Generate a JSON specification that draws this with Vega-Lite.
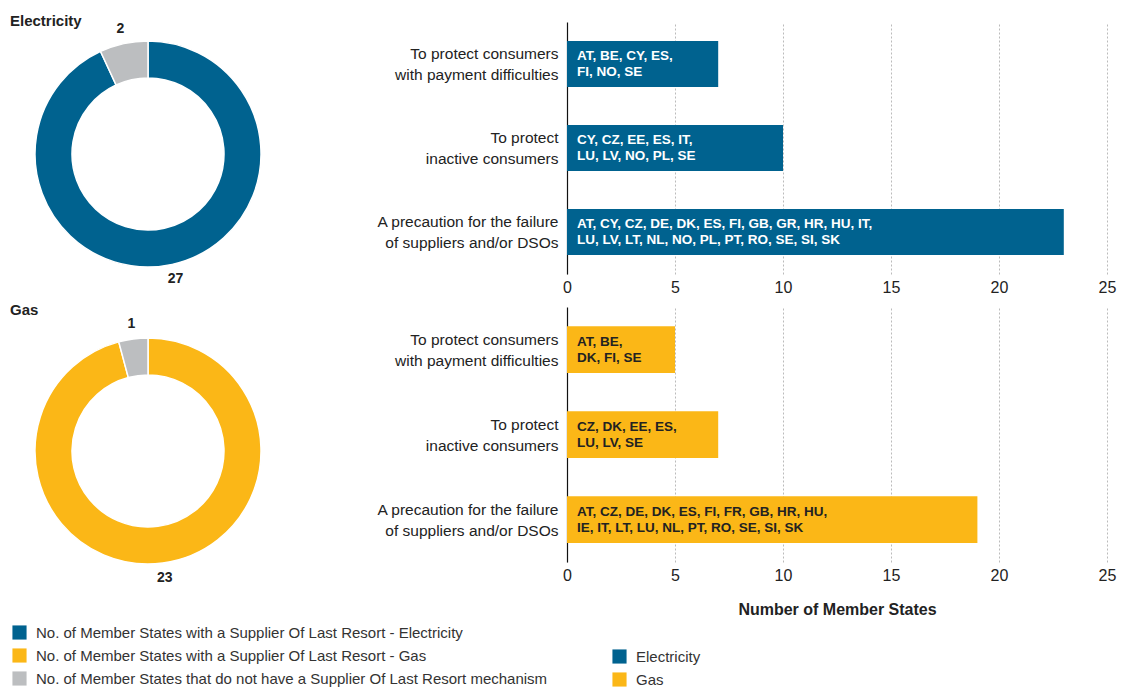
{
  "$schema": "https://vega.github.io/schema/vega-lite/v6.json",
  "padding": {"left": 10, "top": 13, "right": 5, "bottom": 0},
  "background": "white",
  "config": {
    "view": {"stroke": null},
    "font": "Liberation Sans, Arial, sans-serif",
    "axis": {"labelFont": "Liberation Sans, Arial, sans-serif", "titleFont": "Liberation Sans, Arial, sans-serif"},
    "legend": {"labelFont": "Liberation Sans, Arial, sans-serif"},
    "title": {"font": "Liberation Sans, Arial, sans-serif"}
  },
  "bounds": "flush",
  "align": "each",
  "columns": 2,
  "spacing": {"row": 21, "column": 281},
  "datasets": {
    "donut": [
      {"energy": "Electricity", "category": "No. of Member States with a Supplier Of Last Resort - Electricity", "value": 27, "order": 1},
      {"energy": "Electricity", "category": "No. of Member States that do not have a Supplier Of Last Resort mechanism", "value": 2, "order": 2},
      {"energy": "Gas", "category": "No. of Member States with a Supplier Of Last Resort - Gas", "value": 23, "order": 1},
      {"energy": "Gas", "category": "No. of Member States that do not have a Supplier Of Last Resort mechanism", "value": 1, "order": 2}
    ],
    "bars": [
      {"energy": "Electricity", "purpose": "To protect consumers|with payment difficulties", "count": 7, "countries": "AT, BE, CY, ES,|FI, NO, SE"},
      {"energy": "Electricity", "purpose": "To protect |inactive consumers", "count": 10, "countries": "CY, CZ, EE, ES, IT,|LU, LV, NO, PL, SE"},
      {"energy": "Electricity", "purpose": "A precaution for the failure|of suppliers and/or DSOs", "count": 23, "countries": "AT, CY, CZ, DE, DK, ES, FI, GB, GR, HR, HU, IT,|LU, LV, LT, NL, NO, PL, PT, RO, SE, SI, SK"},
      {"energy": "Gas", "purpose": "To protect consumers|with payment difficulties", "count": 5, "countries": "AT, BE,|DK, FI, SE"},
      {"energy": "Gas", "purpose": "To protect |inactive consumers", "count": 7, "countries": "CZ, DK, EE, ES,|LU, LV, SE"},
      {"energy": "Gas", "purpose": "A precaution for the failure|of suppliers and/or DSOs", "count": 19, "countries": "AT, CZ, DE, DK, ES, FI, FR, GB, HR, HU,|IE, IT, LT, LU, NL, PT, RO, SE, SI, SK"}
    ]
  },
  "concat": [
    {
      "width": 276, "height": 264,
      "title": {"text": "Electricity", "anchor": "start", "fontSize": 15, "fontWeight": "bold", "color": "#222", "offset": 0, "dy": 7},
      "data": {"name": "donut"},
      "transform": [{"filter": "datum.energy === 'Electricity'"}],
      "encoding": {
        "theta": {"field": "value", "type": "quantitative", "stack": true},
        "order": {"field": "order", "type": "quantitative"}
      },
      "layer": [
        {
          "mark": {"type": "arc", "innerRadius": 76, "outerRadius": 113, "stroke": "white", "strokeWidth": 1.5},
          "encoding": {
            "color": {"field": "category", "type": "nominal",
              "scale": {"domain": ["No. of Member States with a Supplier Of Last Resort - Electricity", "No. of Member States with a Supplier Of Last Resort - Gas", "No. of Member States that do not have a Supplier Of Last Resort mechanism"], "range": ["#00628F", "#FBB717", "#BCBEC0"]},
              "legend": {"orient": "none", "legendX": 2, "legendY": 603, "title": null, "symbolType": "square", "symbolSize": 200, "symbolStrokeWidth": 0, "labelFontSize": 15, "labelColor": "#333", "rowPadding": 7, "labelOffset": 9, "labelLimit": 600}
            }
          }
        },
        {
          "mark": {"type": "text", "radius": 128, "fontSize": 14, "fontWeight": "bold", "fill": "#222"},
          "encoding": {"text": {"field": "value", "type": "quantitative"}}
        }
      ]
    },
    {
      "width": 540, "height": 252,
      "data": {"name": "bars"},
      "transform": [{"filter": "datum.energy === 'Electricity'"}],
      "encoding": {
        "y": {"field": "purpose", "type": "nominal", "sort": null,
          "scale": {"paddingInner": 0.45, "paddingOuter": 0.225},
          "axis": {"title": null, "labelExpr": "split(datum.label, '|')", "labelFontSize": 15.5, "labelColor": "#222", "labelLineHeight": 21, "labelPadding": 9, "labelOffset": -10, "ticks": false, "domainColor": "#111", "domainWidth": 1.2, "labelLimit": 300}
        },
        "x": {"field": "count", "type": "quantitative",
          "scale": {"domain": [0, 25], "nice": false},
          "axis": {"title": null, "values": [0, 5, 10, 15, 20, 25], "labelFlush": false, "domain": false, "ticks": false, "labelFontSize": 16, "labelColor": "#222", "labelPadding": 5, "gridColor": "#BBBBBB", "gridDash": [2, 2], "gridWidth": 1}
        }
      },
      "layer": [
        {
          "mark": {"type": "bar"},
          "encoding": {
            "fill": {"field": "energy", "type": "nominal",
              "scale": {"domain": ["Electricity", "Gas"], "range": ["#00628F", "#FBB717"]},
              "legend": {"orient": "none", "legendX": 602, "legendY": 627, "title": null, "symbolType": "square", "symbolSize": 200, "symbolStrokeWidth": 0, "labelFontSize": 15, "labelColor": "#333", "rowPadding": 7, "labelOffset": 9}
            }
          }
        },
        {
          "mark": {"type": "text", "align": "left", "baseline": "middle", "dx": 10, "dy": -8, "fontSize": 13.5, "fontWeight": "bold", "fill": "white", "lineBreak": "|", "lineHeight": 16},
          "encoding": {
            "x": {"datum": 0, "type": "quantitative"},
            "text": {"field": "countries"}
          }
        }
      ]
    },
    {
      "width": 276, "height": 288,
      "title": {"text": "Gas", "anchor": "start", "fontSize": 15, "fontWeight": "bold", "color": "#222", "offset": 0, "dy": 11},
      "data": {"name": "donut"},
      "transform": [{"filter": "datum.energy === 'Gas'"}],
      "encoding": {
        "theta": {"field": "value", "type": "quantitative", "stack": true},
        "order": {"field": "order", "type": "quantitative"}
      },
      "layer": [
        {
          "mark": {"type": "arc", "innerRadius": 76, "outerRadius": 113, "stroke": "white", "strokeWidth": 1.5},
          "encoding": {
            "color": {"field": "category", "type": "nominal"}
          }
        },
        {
          "mark": {"type": "text", "radius": 128, "fontSize": 14, "fontWeight": "bold", "fill": "#222"},
          "encoding": {"text": {"field": "value", "type": "quantitative"}}
        }
      ]
    },
    {
      "width": 540, "height": 255,
      "data": {"name": "bars"},
      "transform": [{"filter": "datum.energy === 'Gas'"}],
      "encoding": {
        "y": {"field": "purpose", "type": "nominal", "sort": null,
          "scale": {"paddingInner": 0.45, "paddingOuter": 0.225},
          "axis": {"title": null, "labelExpr": "split(datum.label, '|')", "labelFontSize": 15.5, "labelColor": "#222", "labelLineHeight": 21, "labelPadding": 9, "labelOffset": -10, "ticks": false, "domainColor": "#111", "domainWidth": 1.2, "labelLimit": 300}
        },
        "x": {"field": "count", "type": "quantitative",
          "scale": {"domain": [0, 25], "nice": false},
          "axis": {"title": "Number of Member States", "titleFontSize": 16, "titleFontWeight": "bold", "titleColor": "#222", "titlePadding": 18, "values": [0, 5, 10, 15, 20, 25], "labelFlush": false, "domain": false, "ticks": false, "labelFontSize": 16, "labelColor": "#222", "labelPadding": 5, "gridColor": "#BBBBBB", "gridDash": [2, 2], "gridWidth": 1}
        }
      },
      "layer": [
        {
          "mark": {"type": "bar"},
          "encoding": {
            "fill": {"field": "energy", "type": "nominal"}
          }
        },
        {
          "mark": {"type": "text", "align": "left", "baseline": "middle", "dx": 10, "dy": -8, "fontSize": 13.5, "fontWeight": "bold", "fill": "#222", "lineBreak": "|", "lineHeight": 16},
          "encoding": {
            "x": {"datum": 0, "type": "quantitative"},
            "text": {"field": "countries"}
          }
        }
      ]
    }
  ]
}
